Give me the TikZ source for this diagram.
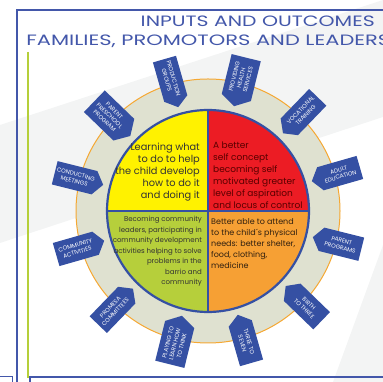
\documentclass[tikz,border=0pt]{standalone}
\usepackage{fontspec}
\setmainfont{Poppins}
\usetikzlibrary{calc}
\definecolor{frameblue}{HTML}{4357AA}
\definecolor{tagblue}{HTML}{3550A3}
\definecolor{ringfill}{HTML}{DFE1D0}
\definecolor{ringline}{HTML}{F5A833}
\definecolor{quadyellow}{HTML}{FFF200}
\definecolor{quadred}{HTML}{EC1C24}
\definecolor{quadgreen}{HTML}{B6CF3B}
\definecolor{quadorange}{HTML}{F6A034}
\definecolor{leafgreen}{HTML}{B5CF3A}
\definecolor{palegray}{HTML}{F3F4F4}
\begin{document}
\begin{tikzpicture}[x=1pt,y=1pt,
    tagbox/.style={fill=tagblue},
    tagtext/.style={text=white,inner sep=0pt,align=center,
        font=\fontsize{5.8}{7}\selectfont},
    quadtext/.style={inner sep=0pt},
    title/.style={text=frameblue,inner sep=0pt,xscale=1.36,
        font=\fontsize{15}{18}\selectfont}]
  \useasboundingbox (0,0) rectangle (383,382);
  \clip (0,0) rectangle (383,382);

  % faint background
  \fill[palegray] (0,257) -- (383,382) -- (383,265) -- (0,139) -- cycle;
  \fill[palegray] (383,137) -- (333,0) -- (383,0) -- cycle;

  % frame
  \draw[frameblue,line width=1.2pt] (17,0) -- (17,372) -- (390,372);
  \draw[frameblue,line width=1pt] (0,5) -- (12,5) -- (12,-2);
  \draw[frameblue,line width=1.2pt] (390,5) -- (30,5) -- (30,-2);
  \draw[leafgreen,line width=2pt] (28,330) -- (28,4);

  % title
  \node[title,anchor=base east] (title1) at (375,355) {INPUTS AND OUTCOMES};
  \node[title,xscale=1.03,anchor=base west] (title2) at (26,336) {FAMILIES, PROMOTORS AND LEADERS};

  \coordinate (c) at (208,171);

  % ring
  \draw[ringline,fill=ringfill,line width=1pt] (c) circle (132);

  % quadrants
  \fill[quadyellow] (c) -- ++(180:101) arc (180:90:101) -- cycle;
  \fill[quadred] (c) -- ++(90:101) arc (90:0:101) -- cycle;
  \fill[quadorange] (c) -- ++(0:101) arc (0:-90:101) -- cycle;
  \fill[quadgreen] (c) -- ++(-90:101) arc (-90:-180:101) -- cycle;
  \draw[tagblue,line width=1.8pt] ($(c)+(0,101)$) -- ($(c)+(0,-101)$);
  \draw[tagblue,line width=1.8pt] ($(c)+(-101,0)$) -- ($(c)+(101,0)$);
  \draw[tagblue,line width=2.2pt] (c) circle (101);

  % outcomes
  \node[quadtext,anchor=east,align=right,text=black!80,
      font=\fontsize{9.8}{12}\selectfont] (learn) at (200,210)
      {Learning what\\to do to help\\the child develop\\how to do it\\and doing it};
  \node[quadtext,anchor=west,align=left,text=red!35!black,
      font=\fontsize{9}{12}\selectfont] (self) at (213,207)
      {A better\\self concept\\becoming self\\motivated greater\\level of aspiration\\and locus of control};
  \node[quadtext,anchor=east,align=right,text=black!80,
      font=\fontsize{7}{10.5}\selectfont] (leaders) at (202,130.5)
      {Becoming community\\leaders, participating in\\community development\\activities helping to solve\\problems in the\\barrio and\\community};
  \node[quadtext,anchor=west,align=left,text=black!75!brown,
      font=\fontsize{8}{11}\selectfont] (needs) at (211,138)
      {Better able to attend\\to the child´s physical\\needs:  better shelter,\\food, clothing,\\medicine};

  % inputs
  \foreach \a/\r/\w/\txt [count=\i] in {
      106/-74/12/{PRODUCTION\\GROUPS},
      76/76/15/{PROVIDING\\HEALTH\\SERVICES},
      46/46/12/{VOCATIONAL\\TRAINING},
      16/16/12/{ADULT\\EDUCATION},
      -14/-14/12/{PARENT\\PROGRAMS},
      -44/-44/12/{BIRTH\\TO THREE},
      -74/-74/12/{THREE TO\\SEVEN},
      -104/76/15/{PLAYING TO\\LEARN HOW\\TO THINK},
      -134/46/12/{PROMESA\\COMMITTEES},
      -164/16/12/{COMMUNITY\\ACTIVITIES},
      166/-14/12/{CONDUCTING\\MEETINGS},
      136/-44/15/{PARENT\\PRESCHOOL\\PROGRAM}}
  {
    \begin{scope}[shift={(c)},rotate=\a]
      \fill[tagbox] (108,0) -- (117,\w) -- (158,\w) -- (158,-\w) -- (117,-\w) -- cycle;
      \node[tagtext,rotate=\r] (tag\i) at (137,0) {\txt};
    \end{scope}
  }
\end{tikzpicture}
\end{document}
